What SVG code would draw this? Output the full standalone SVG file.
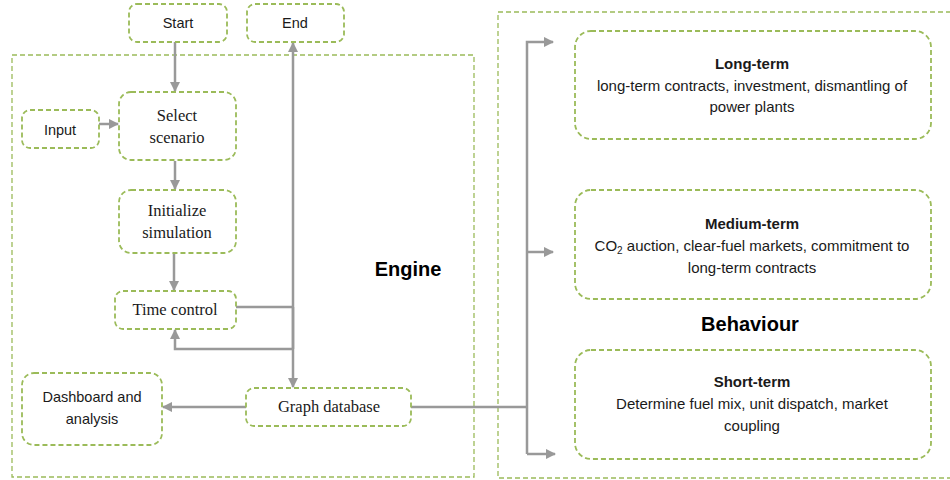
<svg xmlns="http://www.w3.org/2000/svg" width="950" height="480" viewBox="0 0 950 480">
  <style>
    .box { fill: #ffffff; stroke: #9bbb59; stroke-width: 1.8; stroke-dasharray: 5 3; }
    .frame { fill: none; stroke: #9bbb59; stroke-width: 1.3; stroke-dasharray: 5 3; }
    .wire { fill: none; stroke: #999999; stroke-width: 2.5; }
    .sans { font-family: "Liberation Sans", Arial, sans-serif; font-size: 14.5px; fill: #1a1a1a; text-anchor: middle; }
    .serif { font-family: "Liberation Serif", "DejaVu Serif", serif; font-size: 16.5px; fill: #1a1a1a; text-anchor: middle; }
    .title { font-family: "Liberation Sans", Arial, sans-serif; font-size: 15px; font-weight: bold; fill: #1a1a1a; text-anchor: middle; }
    .body { font-family: "Liberation Sans", Arial, sans-serif; font-size: 15px; fill: #1a1a1a; text-anchor: middle; }
    .big { font-family: "Liberation Sans", Arial, sans-serif; font-size: 20px; font-weight: bold; fill: #000000; text-anchor: middle; }
  </style>
  <defs>
    <marker id="arrow" viewBox="0 0 10 10" refX="9" refY="5" markerWidth="4.2" markerHeight="4.2" orient="auto" markerUnits="strokeWidth">
      <path d="M0,0 L10,5 L0,10 Z" fill="#999999"/>
    </marker>
  </defs>

  <!-- container frames -->
  <g id="engine">
    <rect class="frame" x="12" y="55" width="462" height="422"/>
    <text class="big" x="408" y="276">Engine</text>
  </g>
  <g id="behaviour">
    <rect class="frame" x="498" y="12" width="470" height="466"/>
    <text class="big" x="750" y="331">Behaviour</text>
  </g>

  <!-- connectors -->
  <g id="connectors">
    <line class="wire" x1="175" y1="42" x2="175" y2="91" marker-end="url(#arrow)"/>
    <line class="wire" x1="99" y1="124" x2="118" y2="124" marker-end="url(#arrow)"/>
    <line class="wire" x1="175" y1="161" x2="175" y2="189" marker-end="url(#arrow)"/>
    <line class="wire" x1="174" y1="253" x2="174" y2="290" marker-end="url(#arrow)"/>
    <polyline class="wire" points="236,307 293,307"/>
    <line class="wire" x1="293" y1="349" x2="293" y2="43" marker-end="url(#arrow)"/>
    <line class="wire" x1="293" y1="307" x2="293" y2="387" marker-end="url(#arrow)"/>
    <polyline class="wire" points="293,349 175,349 175,330" marker-end="url(#arrow)"/>
    <line class="wire" x1="246" y1="407" x2="163" y2="407" marker-end="url(#arrow)"/>
    <polyline class="wire" points="411,407 527,407"/>
    <polyline class="wire" points="527,454 527,42 553,42" marker-end="url(#arrow)"/>
    <line class="wire" x1="527" y1="252" x2="553" y2="252" marker-end="url(#arrow)"/>
    <line class="wire" x1="527" y1="454" x2="555" y2="454" marker-end="url(#arrow)"/>
  </g>

  <!-- engine nodes -->
  <g id="start">
    <rect class="box" x="129" y="4" width="98" height="38" rx="8"/>
    <text class="sans" x="178" y="28">Start</text>
  </g>
  <g id="end">
    <rect class="box" x="247" y="4" width="97" height="38" rx="8"/>
    <text class="sans" x="295" y="28">End</text>
  </g>
  <g id="input">
    <rect class="box" x="22" y="110" width="77" height="38" rx="8"/>
    <text class="sans" x="60" y="135">Input</text>
  </g>
  <g id="select-scenario">
    <rect class="box" x="119" y="92" width="117" height="68" rx="12"/>
    <text class="serif" x="177" y="121">Select</text>
    <text class="serif" x="177" y="143">scenario</text>
  </g>
  <g id="initialize-simulation">
    <rect class="box" x="119" y="190" width="117" height="63" rx="12"/>
    <text class="serif" x="177" y="216">Initialize</text>
    <text class="serif" x="177" y="238">simulation</text>
  </g>
  <g id="time-control">
    <rect class="box" x="115" y="291" width="121" height="38" rx="8"/>
    <text class="serif" x="175" y="315">Time control</text>
  </g>
  <g id="dashboard">
    <rect class="box" x="22" y="373" width="140" height="72" rx="12"/>
    <text class="sans" x="92" y="402">Dashboard and</text>
    <text class="sans" x="92" y="424">analysis</text>
  </g>
  <g id="graph-database">
    <rect class="box" x="246" y="388" width="165" height="38" rx="8"/>
    <text class="serif" x="329" y="412">Graph database</text>
  </g>

  <!-- behaviour nodes -->
  <g id="long-term">
    <rect class="box" x="575" y="31" width="356" height="108" rx="16"/>
    <text class="title" x="752" y="69">Long-term</text>
    <text class="body" x="752" y="91">long-term contracts, investment, dismantling of</text>
    <text class="body" x="752" y="112">power plants</text>
  </g>
  <g id="medium-term">
    <rect class="box" x="575" y="190" width="356" height="109" rx="16"/>
    <text class="title" x="752" y="229">Medium-term</text>
    <text class="body" x="752" y="251">CO<tspan font-size="10" dy="3">2</tspan><tspan dy="-3"> auction, clear-fuel markets, commitment to</tspan></text>
    <text class="body" x="752" y="273">long-term contracts</text>
  </g>
  <g id="short-term">
    <rect class="box" x="575" y="350" width="356" height="109" rx="16"/>
    <text class="title" x="752" y="387">Short-term</text>
    <text class="body" x="752" y="409">Determine fuel mix, unit dispatch, market</text>
    <text class="body" x="752" y="431">coupling</text>
  </g>
</svg>
